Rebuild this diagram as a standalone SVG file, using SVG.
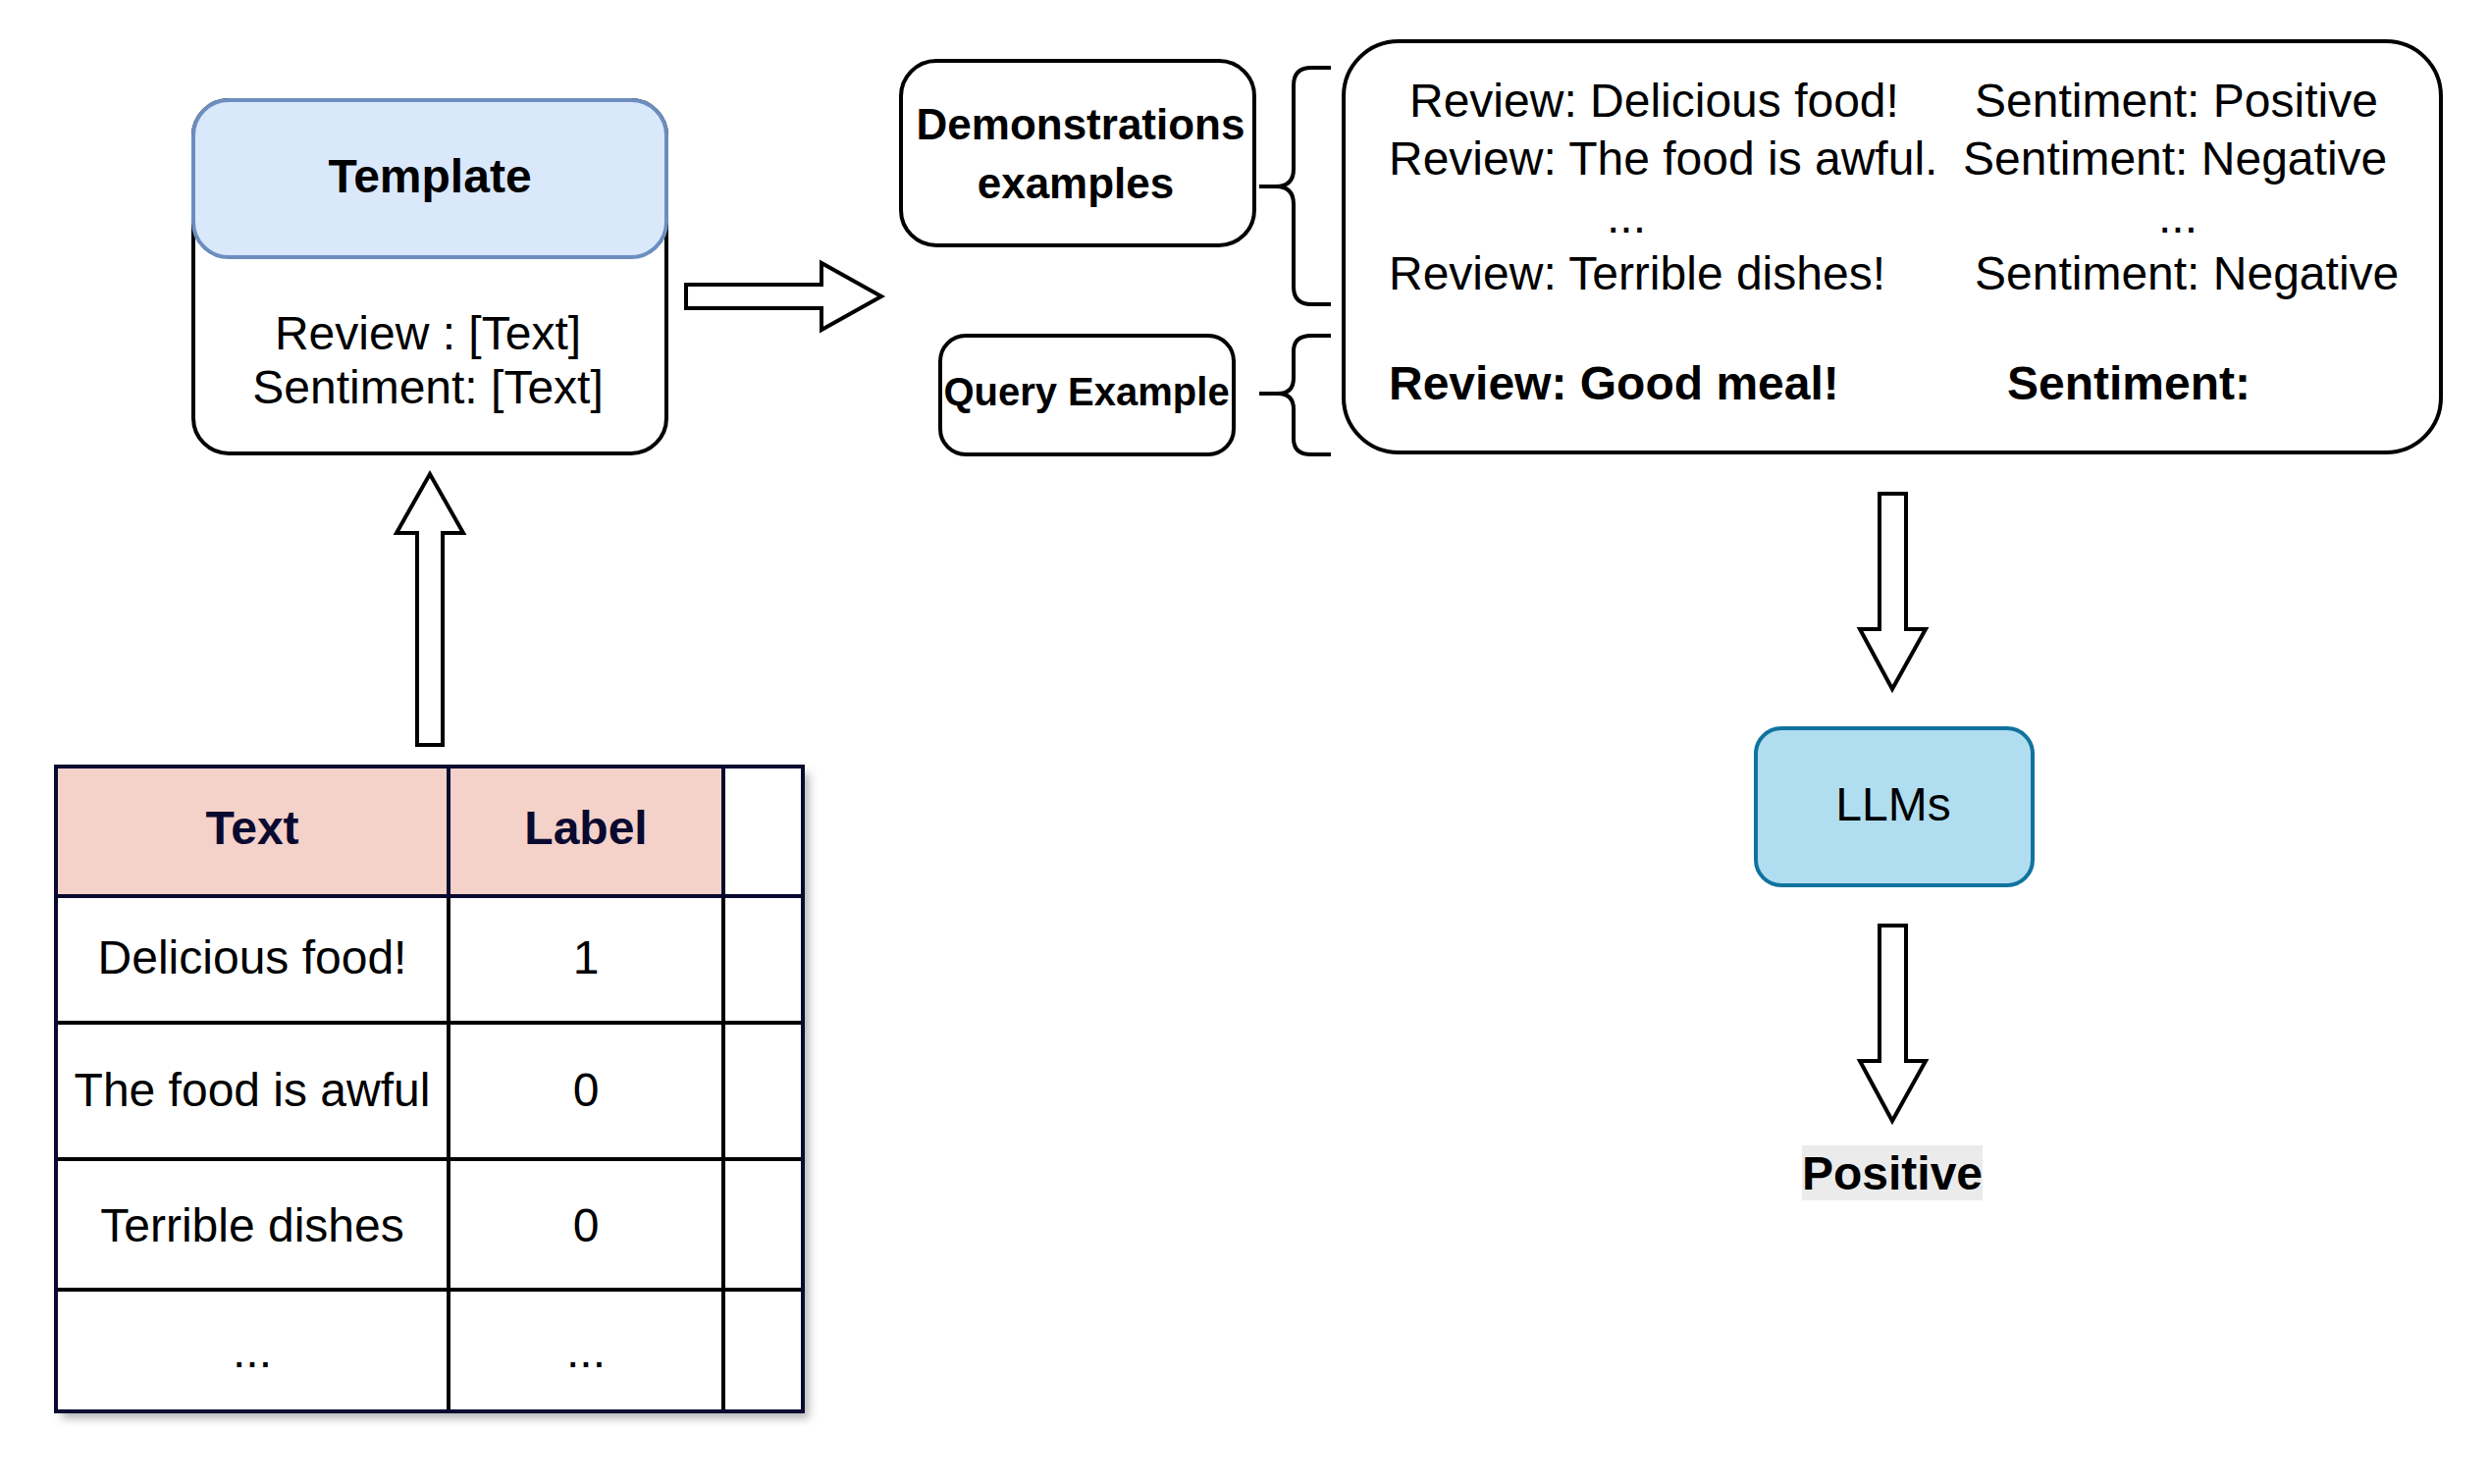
<svg xmlns="http://www.w3.org/2000/svg" width="2536" height="1512" viewBox="0 0 2536 1512">
<defs>
<style>
text{font-family:"Liberation Sans",Arial,Helvetica,sans-serif;fill:#000;}
.t{font-size:48px;}
.b{font-size:48px;font-weight:bold;}
.c{text-anchor:middle;}
.box{fill:#fff;stroke:#000;stroke-width:4;}
.arr{fill:#fff;stroke:#000;stroke-width:4;stroke-linejoin:miter;}
.br{fill:none;stroke:#000;stroke-width:4;}
.grid{stroke:#000;stroke-width:4;fill:none;}
.nav{stroke:#0a0a30;stroke-width:4;fill:none;}
.th{fill:#0a0a30;}
</style>
<filter id="sh" x="-10%" y="-10%" width="130%" height="130%">
<feDropShadow dx="6" dy="7" stdDeviation="5" flood-color="#000" flood-opacity="0.3"/>
</filter>
</defs>
<rect width="2536" height="1512" fill="#fff"/>

<g id="template">
<rect class="box" x="197" y="102" width="482" height="360" rx="36"/>
<rect x="197" y="102" width="482" height="160" rx="36" fill="#dae8fc" stroke="#6c8ebf" stroke-width="4"/>
<text class="b c" x="438" y="196">Template</text>
<text class="t c" x="436" y="356">Review : [Text]</text>
<text class="t c" x="436" y="411">Sentiment: [Text]</text>
</g>

<g id="demonstrations">
<rect class="box" x="918" y="62" width="360" height="188" rx="36"/>
<text class="c" x="1101" y="142" style="font-size:44px;font-weight:bold">Demonstrations</text>
<text class="c" x="1096" y="202" style="font-size:44px;font-weight:bold">examples</text>
</g>

<g id="query">
<rect class="box" x="958" y="342" width="299" height="121" rx="26"/>
<text class="c" x="1107" y="413" style="font-size:40px;font-weight:bold">Query Example</text>
</g>

<g id="prompt">
<rect class="box" x="1369" y="42" width="1118" height="419" rx="56"/>
<text class="t" x="1436" y="119">Review: Delicious food!</text>
<text class="t" x="2012" y="119">Sentiment: Positive</text>
<text class="t" x="1415" y="178">Review: The food is awful.</text>
<text class="t" x="2000" y="178">Sentiment: Negative</text>
<text class="t c" x="1657" y="237">...</text>
<text class="t c" x="2219" y="237">...</text>
<text class="t" x="1415" y="295">Review: Terrible dishes!</text>
<text class="t" x="2012" y="295">Sentiment: Negative</text>
<text class="b" x="1415" y="407">Review: Good meal!</text>
<text class="b" x="2045" y="407">Sentiment:</text>
</g>

<g id="llms">
<rect x="1789" y="742" width="282" height="160" rx="26" fill="#b1ddf0" stroke="#10739e" stroke-width="4"/>
<text class="t c" x="1929" y="836">LLMs</text>
</g>

<g id="positive">
<rect x="1836" y="1167" width="184" height="56" fill="#ebebeb"/>
<text class="b c" x="1928" y="1212">Positive</text>
</g>

<g id="table">
<rect x="57" y="781" width="761" height="657" fill="#fff" filter="url(#sh)"/>
<rect x="57" y="781" width="680" height="132" fill="#f4d1c9"/>
<path class="grid" d="M57,1042H818M57,1181H818M57,1314H818M457,913V1438M737,913V1438"/>
<path class="nav" d="M57,913H818M457,781V913M737,781V913"/>
<rect class="nav" x="57" y="781" width="761" height="657"/>
<text class="b c th" x="257" y="860">Text</text>
<text class="b c th" x="597" y="860">Label</text>
<text class="t c" x="257" y="992">Delicious food!</text>
<text class="t c" x="597" y="992">1</text>
<text class="t c" x="257" y="1127">The food is awful</text>
<text class="t c" x="597" y="1127">0</text>
<text class="t c" x="257" y="1265">Terrible dishes</text>
<text class="t c" x="597" y="1265">0</text>
<text class="t c" x="257" y="1393">...</text>
<text class="t c" x="597" y="1393">...</text>
</g>

<g id="connectors">
<path class="arr" d="M425,759V543H404L438,483L472,543H451V759Z"/>
<path class="arr" d="M699,290H837V268L898,302L837,336V314H699Z"/>
<path class="br" d="M1356,69H1336Q1318,69 1318,87V172Q1318,190 1300,190H1283M1300,190Q1318,190 1318,208V292Q1318,310 1336,310H1356"/>
<path class="br" d="M1356,342H1336Q1318,342 1318,358V385Q1318,401 1302,401H1283M1302,401Q1318,401 1318,417V447Q1318,463 1336,463H1356"/>
<path class="arr" d="M1915,503H1942V641H1962L1928,702L1895,641H1915Z"/>
<path class="arr" d="M1915,943H1942V1081H1962L1928,1142L1895,1081H1915Z"/>
</g>
</svg>
